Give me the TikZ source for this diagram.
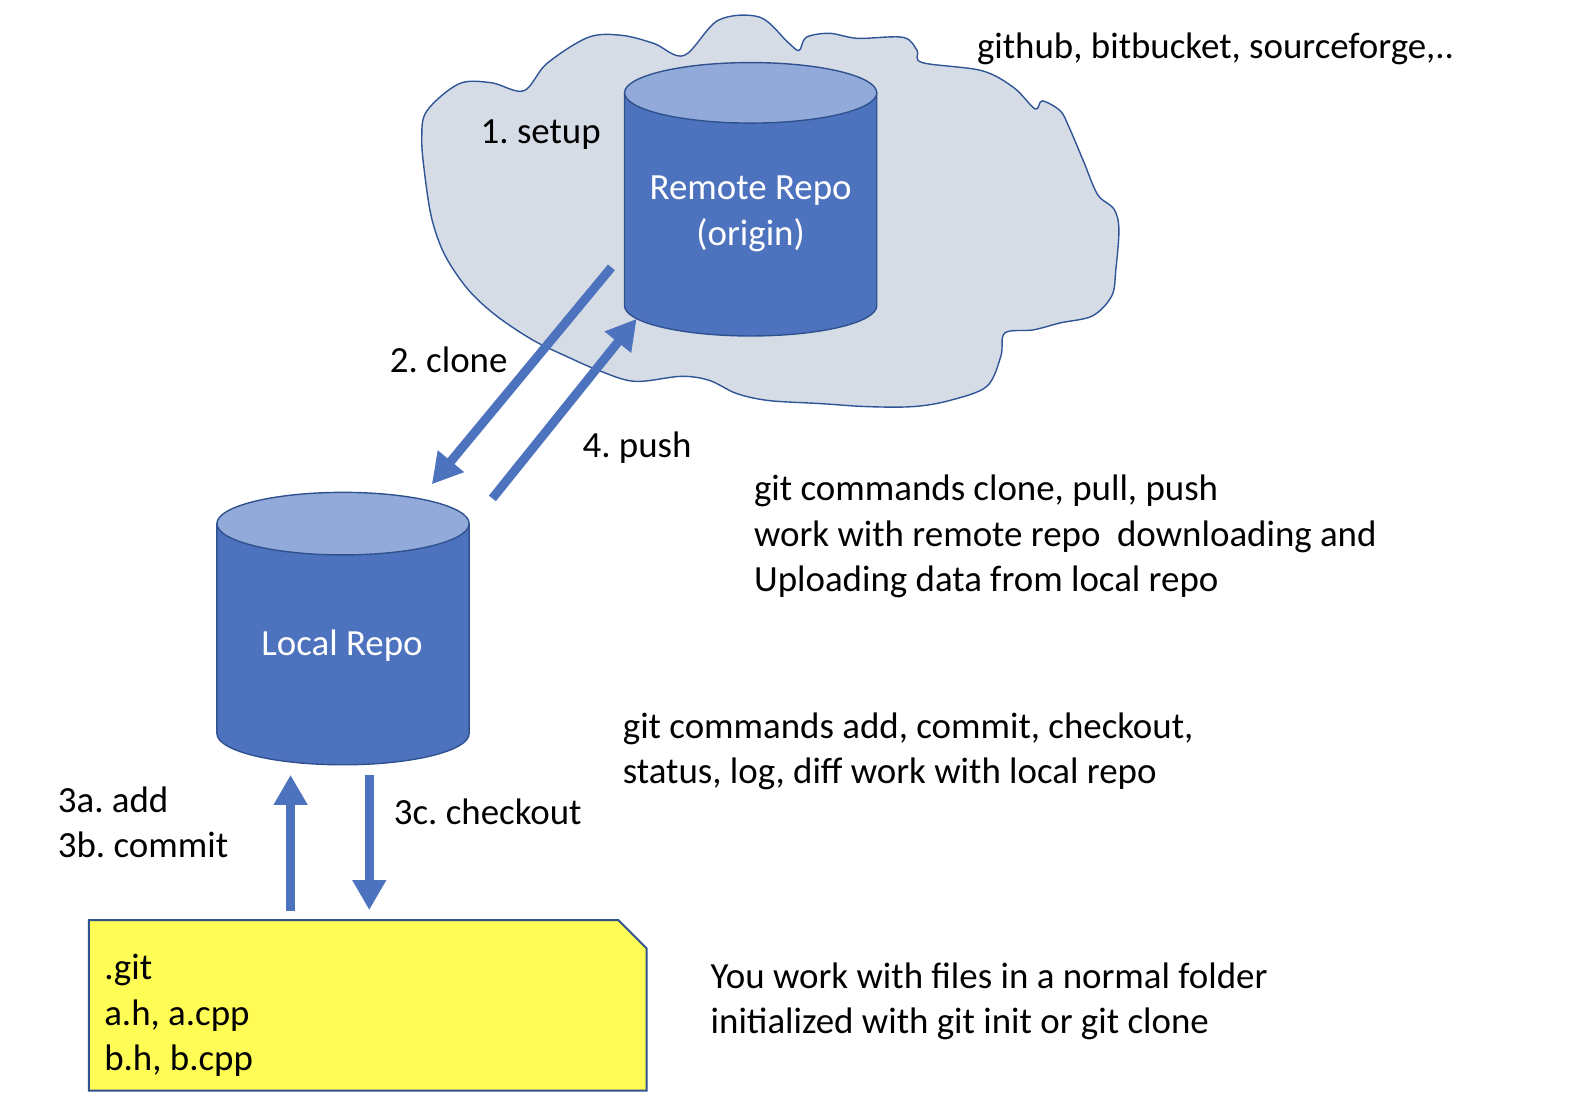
\documentclass[tikz,border=0pt]{standalone}
\usepackage{fontspec}
\setmainfont{Carlito}
\usetikzlibrary{arrows.meta}
\frenchspacing
\definecolor{cloudfill}{HTML}{D6DCE5}
\definecolor{cloudline}{HTML}{2F5597}
\definecolor{repobody}{HTML}{4E73BE}
\definecolor{repotop}{HTML}{91AAD9}
\definecolor{repoline}{HTML}{2F528F}
\definecolor{arrowblue}{HTML}{4E73BE}
\definecolor{folderyellow}{HTML}{FFFC55}
\tikzset{
  txt/.style={font=\fontsize{18.45pt}{22.8pt}\selectfont\frenchspacing, inner sep=0pt, align=left, anchor=base west},
  wtxt/.style={font=\fontsize{18.45pt}{23.2pt}\selectfont, inner sep=0pt, align=center, anchor=base, text=white},
  bigarrow/.style={draw=arrowblue, line width=4.5pt, -{Triangle[width=16pt,length=15pt]}},
  outl/.style={draw=repoline, line width=0.7pt},
}
\begin{document}
\begin{tikzpicture}[x=0.50446pt,y=-0.50446pt]
\useasboundingbox (0,0) rectangle (1568,1092.3);
% cloud
\draw[fill=cloudfill, draw=cloudline, line width=0.7pt] plot[smooth cycle, tension=0.55] coordinates {
(418,137) (423,110) (455,83) (487,82) (519,90) (542,63) (583,37) (616,35) (648,43) (678,55)
(712,20) (753,17) (781,42) (792,50) (799,37) (822,33) (850,38) (895,37) (909,50) (914,62)
(973,70) (1005,87) (1026,108) (1033,100) (1051,110) (1060,127) (1074,160) (1088,193) (1104,207)
(1109,227) (1106,267) (1102,293) (1083,313) (1051,320) (1024,327) (996,330) (992,353) (978,383)
(941,397) (905,403) (859,403) (813,400) (762,397) (730,390) (703,377) (675,373) (629,378)
(593,367) (561,353) (528,337) (492,313) (464,287) (441,253) (428,217) (421,173)};
% remote cylinder
\draw[outl, fill=repobody] (619,92) -- (619,303) arc[start angle=180,end angle=360,x radius=63.06pt,y radius=15.13pt] -- (869,92) -- cycle;
\draw[outl, fill=repotop] (744,92) ellipse [x radius=63.06pt, y radius=15.13pt];
\node[wtxt] (remote) at (744,243.8) {Remote Repo\\(origin)};
% local cylinder
\draw[outl, fill=repobody] (215,519) -- (215,727) arc[start angle=180,end angle=360,x radius=63.06pt,y radius=15.64pt] -- (465,519) -- cycle;
\draw[outl, fill=repotop] (340,519) ellipse [x radius=63.06pt, y radius=15.64pt];
\node[wtxt] (local) at (339,650) {Local Repo};
% folder
\draw[outl, line width=1pt, fill=folderyellow] (88,912) -- (613,912) -- (641,940) -- (641,1081) -- (88,1081) -- cycle;
\node[txt] (folder) at (103,1061.4) {.git\\a.h, a.cpp\\b.h, b.cpp};
% arrow end points
\coordinate (cloneS) at (606,265);
\coordinate (cloneE) at (428,480);
\coordinate (pushS) at (488,494);
\coordinate (pushE) at (631,316);
\coordinate (addS) at (288,903);
\coordinate (addE) at (288,768);
\coordinate (coS) at (366,768);
\coordinate (coE) at (366,902);
\draw[bigarrow] (cloneS) -- (cloneE);
\draw[bigarrow] (pushS) -- (pushE);
\draw[bigarrow] (addS) -- (addE);
\draw[bigarrow] (coS) -- (coE);
% labels
\node[txt] (hosts) at (968,57.5) {github, bitbucket, sourceforge,..};
\node[txt] (setup) at (476,142.7) {1. setup};
\node[txt] (clone) at (386,368.7) {2. clone};
\node[txt] (push) at (577,453) {4. push};
\node[txt] (remcmd) at (747,586.7) {git commands clone, pull, push\\work with remote repo~ downloading and\\Uploading data from local repo};
\node[txt] (loccmd) at (617,777) {git commands add, commit, checkout,\\status, log, diff work with local repo};
\node[txt] (addlbl) at (57,850.3) {3a. add\\3b. commit};
\node[txt] (colbl) at (390,817.6) {3c. checkout};
\node[txt] (worklbl) at (704,1024.8) {You work with files in a normal folder\\initialized with git init or git clone};
\end{tikzpicture}
\end{document}
